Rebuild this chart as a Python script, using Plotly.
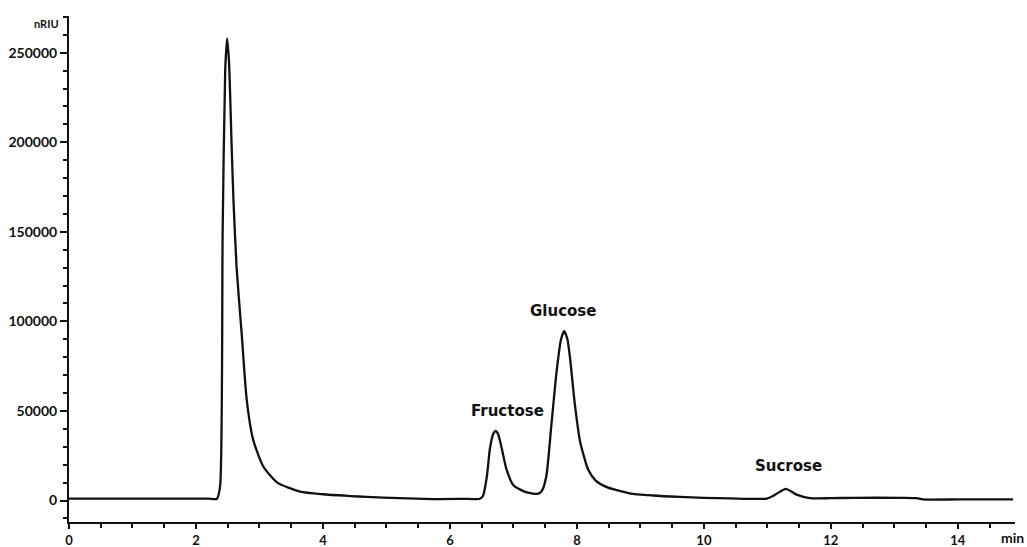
import plotly.graph_objects as go

# Retention time (min) and detector signal (nRIU)
time_min = [0.0, 0.5, 1.0, 1.5, 2.0, 2.2, 2.33, 2.38, 2.42, 2.46, 2.49, 2.52, 2.56, 2.59,
            2.64, 2.72, 2.80, 2.90, 3.06, 3.28, 3.64, 4.0, 4.43, 4.69, 5.2, 5.73, 6.2,
            6.47, 6.52, 6.58, 6.63, 6.68, 6.72, 6.76, 6.81, 6.89, 7.00, 7.21, 7.39, 7.45,
            7.52, 7.60, 7.68, 7.75, 7.80, 7.85, 7.89, 7.97, 8.05, 8.18, 8.30, 8.47, 8.83,
            9.2, 9.62, 10.0, 10.41, 10.99, 11.14, 11.29, 11.46, 11.67, 12.0, 12.35, 13.14,
            13.35, 13.45, 14.0, 14.87]
signal_nriu = [1000, 1000, 1000, 1000, 1000, 1000, 1000, 8000, 150000, 240000, 258000,
               245000, 200000, 168000, 130000, 93000, 56000, 34000, 19000, 10000, 5000,
               3500, 2500, 2000, 1300, 800, 900, 1000, 2500, 13000, 29000, 37000, 38800,
               37000, 30000, 17500, 8500, 4500, 3800, 5500, 14000, 43000, 72000, 90000,
               94500, 90000, 80000, 53000, 33000, 17000, 11000, 7500, 4000, 2800, 2000,
               1500, 1200, 1100, 3600, 6500, 3300, 1300, 1300, 1500, 1500, 1300, 600, 600,
               600]

peak_names = ["Fructose", "Glucose", "Sucrose"]
peak_label_x = [6.9, 7.78, 11.34]
peak_label_y = [49700, 106000, 19000]

FONT = "Lato"
LABEL_FONT = "DejaVu Sans"

fig = go.Figure()
fig.add_trace(go.Scatter(
    x=time_min, y=signal_nriu, mode="lines",
    line=dict(color="#111111", width=2.3, shape="spline", smoothing=0.6),
    hoverinfo="x+y", showlegend=False,
))

for name, lx, ly in zip(peak_names, peak_label_x, peak_label_y):
    fig.add_annotation(x=lx, y=ly, text=name, showarrow=False,
                       font=dict(family=LABEL_FONT, size=15, color="#111111", weight="bold"))

fig.add_annotation(xref="paper", yref="paper", x=0, y=0.986, xanchor="right", xshift=-8,
                   yanchor="middle", text="nRIU", showarrow=False,
                   font=dict(family=FONT, size=11, color="#111111", weight="bold"))
fig.add_annotation(xref="paper", yref="paper", x=0.997, y=-0.03, xanchor="center",
                   yanchor="middle", text="min", showarrow=False,
                   font=dict(family=FONT, size=14, color="#111111", weight="bold"))

axis_font = dict(family=FONT, size=14, color="#111111", weight="bold")
xaxis_font = dict(family=FONT, size=13, color="#111111", weight="bold")

fig.update_layout(
    width=1027, height=547,
    margin=dict(l=69, r=12, t=16, b=25, autoexpand=False),
    paper_bgcolor="white", plot_bgcolor="white",
    xaxis=dict(range=[0, 14.9], dtick=2, tick0=0, showgrid=False, zeroline=False,
               automargin=False,
               showline=True, linecolor="#111111", linewidth=2,
               ticks="outside", ticklen=5, tickwidth=2, tickcolor="#111111",
               tickfont=xaxis_font,
               minor=dict(dtick=0.5, tick0=0, ticks="outside", ticklen=4,
                          tickwidth=1.5, tickcolor="#111111", showgrid=False)),
    yaxis=dict(range=[-12000, 270500], dtick=50000, tick0=0, showgrid=False,
               zeroline=False, tickformat="d", automargin=False,
               showline=True, linecolor="#111111", linewidth=2,
               ticks="outside", ticklen=7, tickwidth=2, tickcolor="#111111",
               tickfont=axis_font,
               minor=dict(dtick=10000, tick0=0, ticks="outside", ticklen=4,
                          tickwidth=1.5, tickcolor="#111111", showgrid=False)),
)

fig.write_html("out.html", config={"displayModeBar": False},
               post_script="document.body.style.margin='0';document.body.style.overflow='hidden';")
